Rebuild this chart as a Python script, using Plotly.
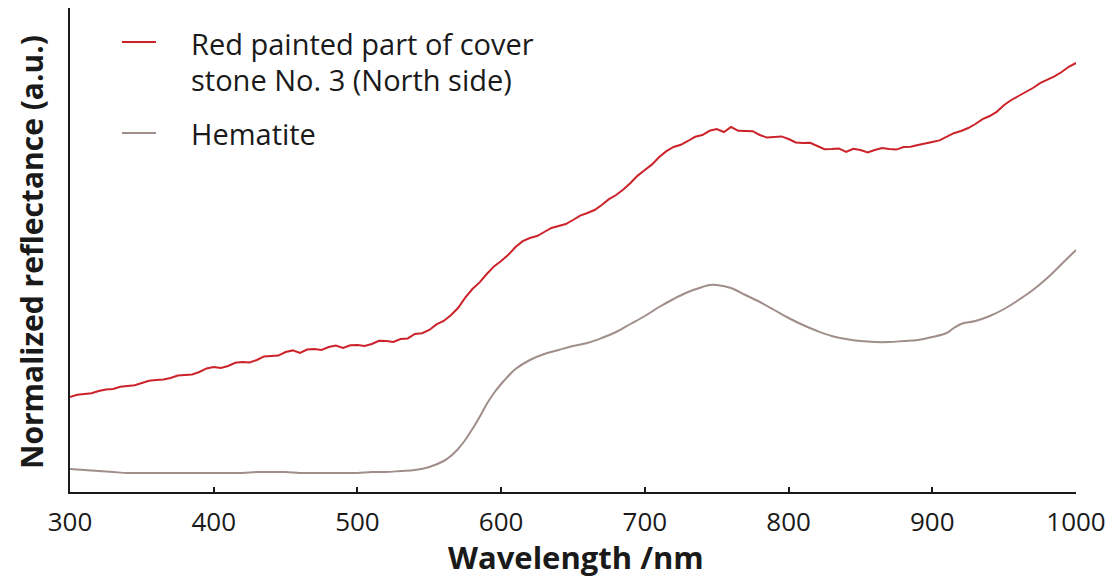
import plotly.graph_objects as go

# Wavelength (nm) – red painted part, read every 5 nm
wl_red = list(range(300, 1001, 5))
# Normalized reflectance (a.u.) – red painted part of cover stone No. 3 (noisy spectrum)
refl_red = [23.75, 24.3, 24.5, 24.7, 25.25, 25.6, 25.75, 26.3, 26.5, 26.7,
            27.25, 27.8, 28.0, 28.1, 28.5, 29.1, 29.25, 29.4, 30.0, 30.9,
            31.25, 31.0, 31.5, 32.3, 32.5, 32.4, 33.0, 33.9, 34.0, 34.1,
            35.0, 35.4, 34.75, 35.6, 35.75, 35.5, 36.25, 36.6, 36.0, 36.7,
            36.75, 36.5, 37.0, 37.8, 37.75, 37.5, 38.25, 38.4, 39.5, 39.7,
            40.5, 41.9, 42.75, 44.2, 46.0, 48.6, 50.75, 52.4, 54.5, 56.4,
            57.75, 59.3, 61.25, 62.7, 63.5, 64.0, 65.0, 66.0, 66.5, 67.0,
            68.0, 69.1, 69.75, 70.5, 71.75, 73.2, 74.25, 75.6, 77.25, 79.1,
            80.5, 81.9, 83.75, 85.2, 86.25, 86.8, 87.75, 88.8, 89.25, 90.3,
            90.75, 90.0, 91.25, 90.3, 90.25, 90.2, 89.25, 88.6, 88.75, 88.9,
            88.25, 87.4, 87.25, 87.3, 86.5, 85.7, 85.75, 85.9, 85.0, 85.8,
            85.5, 84.9, 85.5, 86.0, 85.75, 85.6, 86.25, 86.3, 86.75, 87.2,
            87.5, 87.9, 88.75, 89.7, 90.25, 91.0, 92.0, 93.2, 94.0, 95.1,
            96.75, 98.0, 99.0, 99.9, 101.0, 102.2, 103.0, 103.9, 105.0, 106.3,
            107.25]

wl_hem = [300, 310, 320, 330, 340, 350, 360, 370, 380, 390, 400, 410, 420, 430, 440, 450, 460, 470, 480, 490,
          500, 510, 520, 530, 540, 550, 560, 565, 570, 575, 580, 585, 590, 595, 600, 605, 610, 620, 630, 640,
          650, 660, 670, 680, 690, 700, 710, 720, 730, 740, 745, 750, 760, 770, 780, 790, 800, 810, 820, 830,
          840, 850, 860, 870, 880, 890, 900, 910, 915, 920, 930, 940, 950, 960, 970, 980, 990, 1000]
refl_hem = [5.75, 5.5, 5.25, 5.0, 4.75, 4.75, 4.75, 4.75, 4.75, 4.75, 4.75, 4.75, 4.75, 5.0, 5.0, 5.0, 4.75, 4.75,
            4.75, 4.75, 4.75, 5.0, 5.0, 5.25, 5.5, 6.25, 7.75, 9.0, 10.75, 13.0, 15.75, 18.75, 22.0, 24.75, 27.0,
            29.0, 30.75, 33.0, 34.5, 35.5, 36.5, 37.25, 38.5, 40.0, 42.0, 44.0, 46.25, 48.25, 50.0, 51.25, 51.75,
            51.75, 51.0, 49.25, 47.5, 45.5, 43.5, 41.75, 40.25, 39.0, 38.25, 37.75, 37.5, 37.5, 37.75, 38.0,
            38.75, 39.75, 41.0, 42.0, 42.75, 44.0, 45.75, 48.0, 50.5, 53.5, 57.0, 60.5]

x_ticks = [300, 400, 500, 600, 700, 800, 900, 1000]
series_names = ["Red painted part of cover", "stone No. 3 (North side)", "Hematite"]

RED = "#cc2229"
HEM = "#a08e8a"
FONT = "Open Sans"
INK = "#1a1a1a"

fig = go.Figure()
fig.add_trace(go.Scatter(x=wl_hem, y=refl_hem, mode="lines", line=dict(color=HEM, width=2, shape="spline"),
                         name="Hematite", showlegend=False))
fig.add_trace(go.Scatter(x=wl_red, y=refl_red, mode="lines", line=dict(color=RED, width=2),
                         name="Red painted part of cover stone No. 3 (North side)", showlegend=False))

L, R, T, B = 70, 44, 8, 91
W, H = 1120, 583
pw, ph = W - L - R, H - T - B


def px(xp):
    return (xp - L) / pw


def py(yp):
    return (H - B - yp) / ph


fig.update_layout(
    width=W, height=H,
    margin=dict(l=L, r=R, t=T, b=B),
    paper_bgcolor="white", plot_bgcolor="white",
    font=dict(family=FONT, color=INK),
    xaxis=dict(range=[300, 1000], tickvals=x_ticks, ticktext=[str(v) for v in x_ticks],
               showline=True, linecolor=INK, linewidth=2, ticks="inside", ticklen=5,
               tickcolor=INK, tickwidth=1.5, showgrid=False, zeroline=False, ticklabelstandoff=6,
               tickfont=dict(family=FONT, size=26, color=INK)),
    yaxis=dict(range=[0, 121], showline=True, linecolor=INK, linewidth=2, showticklabels=False,
               ticks="", showgrid=False, zeroline=False),
)

annos = [
    dict(text="<b>Wavelength /nm</b>", x=px(576), y=py(557), font=dict(size=31)),
    dict(text="<b>Normalized reflectance (a.u.)</b>", x=px(31), y=py(252), textangle=-90,
         font=dict(size=30)),
    dict(text=series_names[0], x=px(189), y=py(44), xanchor="left", font=dict(size=29)),
    dict(text=series_names[1], x=px(189), y=py(80), xanchor="left", font=dict(size=29)),
    dict(text=series_names[2], x=px(189), y=py(133), xanchor="left", font=dict(size=29)),
]
for a in annos:
    a.setdefault("xanchor", "center")
    a.update(xref="paper", yref="paper", yanchor="middle", showarrow=False)
    a["font"].update(family=FONT, color=INK)
    fig.add_annotation(**a)

fig.add_shape(type="line", xref="paper", yref="paper", x0=px(122), x1=px(156), y0=py(42), y1=py(42),
              line=dict(color=RED, width=2))
fig.add_shape(type="line", xref="paper", yref="paper", x0=px(122), x1=px(156), y0=py(133), y1=py(133),
              line=dict(color=HEM, width=2))

fig.write_html("out.html")
